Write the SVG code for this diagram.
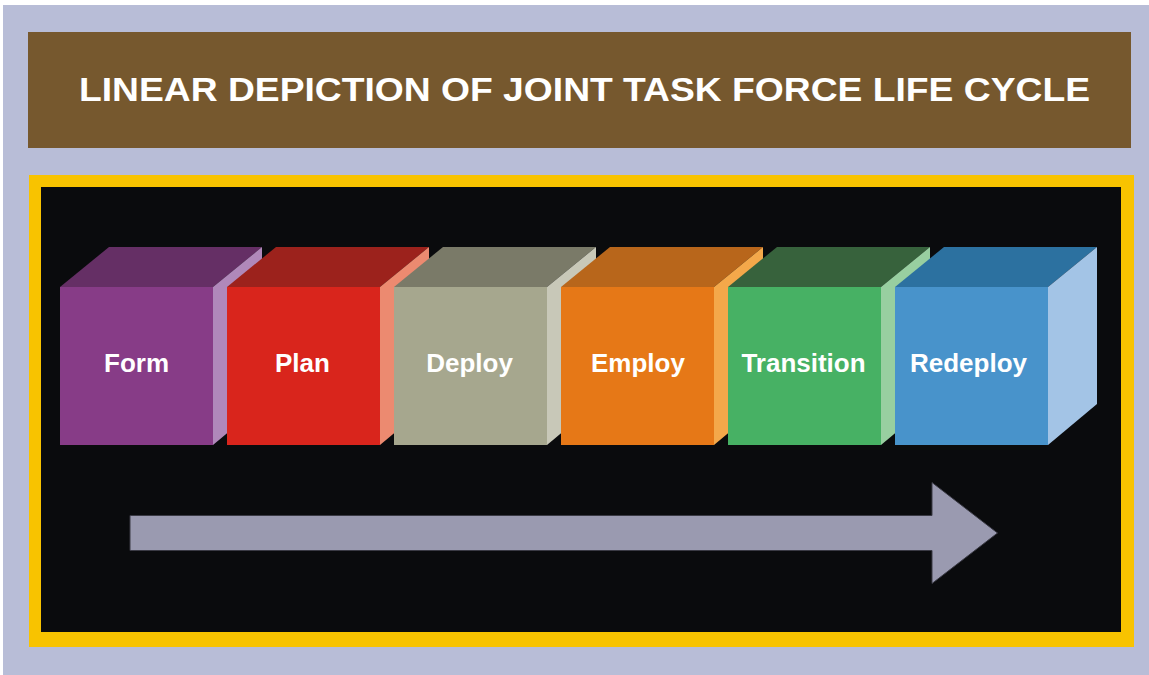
<svg xmlns="http://www.w3.org/2000/svg" width="1149" height="675" viewBox="0 0 1149 675">
<style>
.lbl{font-family:"Liberation Sans",Arial,sans-serif;font-weight:bold;font-size:26px;fill:#fff;text-anchor:middle}
.ttl{font-family:"Liberation Sans",Arial,sans-serif;font-weight:bold;font-size:34px;fill:#fff}
</style>
<rect x="0" y="0" width="1149" height="675" fill="#fff"/>
<rect x="3" y="5" width="1146" height="670" fill="#B8BDD7"/>
<g id="header">
<rect x="28" y="32" width="1103" height="116" fill="#76582E"/>
<text class="ttl" x="79" y="101" textLength="1011" lengthAdjust="spacingAndGlyphs">LINEAR DEPICTION OF JOINT TASK FORCE LIFE CYCLE</text>
</g>
<g id="frame">
<rect x="29" y="175" width="1105" height="472" fill="#F8C300"/>
<rect x="41" y="187" width="1080" height="445" fill="#0A0B0D"/>
</g>
<g id="form">
<polygon points="60,287 109,247 262,247 213,287" fill="#652F65"/>
<polygon points="213,287 262,247 262,404 213,445" fill="#B088BA"/>
<rect x="60" y="287" width="153" height="158" fill="#873C87"/>
<text class="lbl" x="136.5" y="372">Form</text>
</g>
<g id="plan">
<polygon points="227,287 276,247 429,247 380,287" fill="#9C221C"/>
<polygon points="380,287 429,247 429,404 380,445" fill="#EC8A70"/>
<rect x="227" y="287" width="153" height="158" fill="#D9251C"/>
<text class="lbl" x="302.5" y="372">Plan</text>
</g>
<g id="deploy">
<polygon points="394,287 443,247 596,247 547,287" fill="#7A7A68"/>
<polygon points="547,287 596,247 596,404 547,445" fill="#C8C8B8"/>
<rect x="394" y="287" width="153" height="158" fill="#A6A78E"/>
<text class="lbl" x="469.5" y="372">Deploy</text>
</g>
<g id="employ">
<polygon points="561,287 610,247 763,247 714,287" fill="#B8661B"/>
<polygon points="714,287 763,247 763,404 714,445" fill="#F4A84A"/>
<rect x="561" y="287" width="153" height="158" fill="#E67817"/>
<text class="lbl" x="638" y="372">Employ</text>
</g>
<g id="transition">
<polygon points="728,287 777,247 930,247 881,287" fill="#37623C"/>
<polygon points="881,287 930,247 930,404 881,445" fill="#98CFA0"/>
<rect x="728" y="287" width="153" height="158" fill="#47B164"/>
<text class="lbl" x="803.5" y="372">Transition</text>
</g>
<g id="redeploy">
<polygon points="895,287 944,247 1097,247 1048,287" fill="#2C71A0"/>
<polygon points="1048,287 1097,247 1097,404 1048,445" fill="#A3C4E6"/>
<rect x="895" y="287" width="153" height="158" fill="#4893CB"/>
<text class="lbl" x="968.5" y="372">Redeploy</text>
</g>
<g id="connectors">
<polygon points="130,515.5 932,515.5 932,482.5 997.5,533 932,583.5 932,550.5 130,550.5" fill="#9A9AB0" stroke="#3A3A44" stroke-width="1"/>
</g>
</svg>
